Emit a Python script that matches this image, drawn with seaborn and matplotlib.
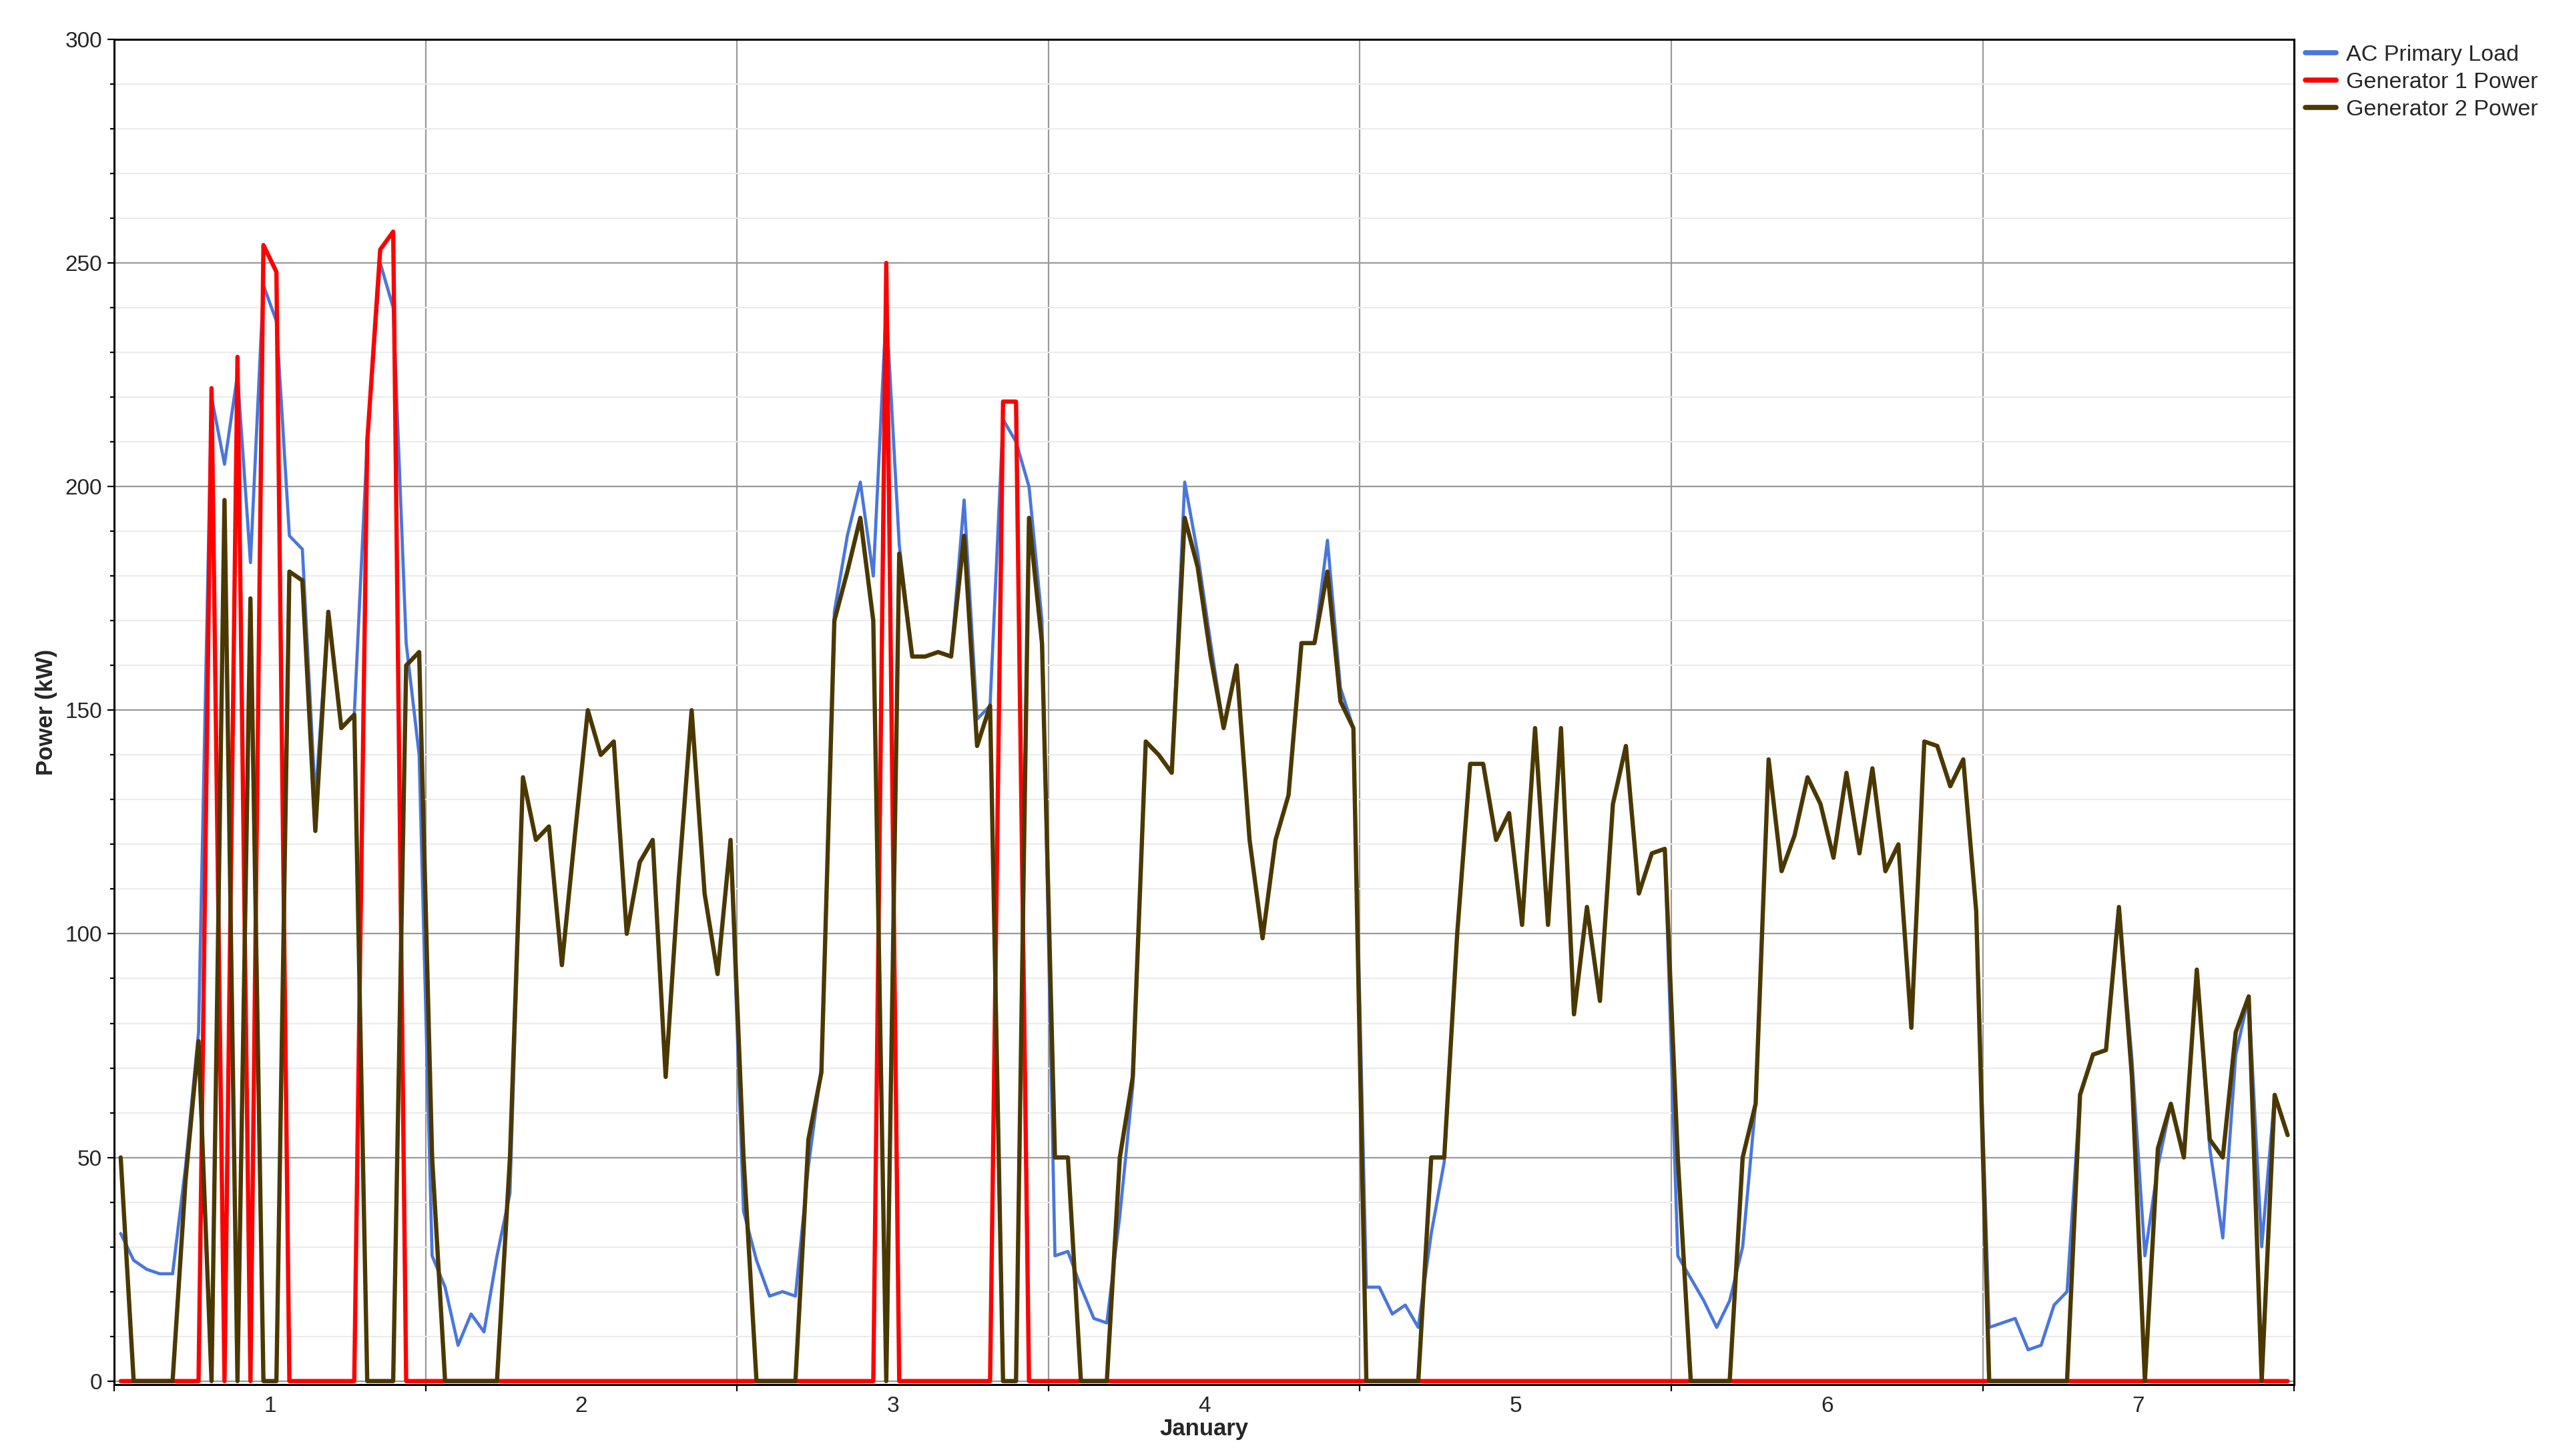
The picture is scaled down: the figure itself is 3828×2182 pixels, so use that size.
import numpy as np
import pandas as pd
import seaborn as sns
import matplotlib.pyplot as plt
from matplotlib.lines import Line2D
from matplotlib.ticker import MultipleLocator, FixedLocator, NullFormatter

# hourly values, one list per day (January 1..7)
load_d1 = [33, 27, 25, 24, 24, 48, 78, 220, 205, 225, 183, 245, 237, 189, 186, 130, 172, 146, 149, 210, 250, 240, 165, 140]
load_d2 = [28, 21, 8, 15, 11, 28, 42, 135, 121, 124, 93, 122, 150, 140, 143, 100, 116, 121, 68, 112, 150, 109, 91, 121]
load_d3 = [38, 27, 19, 20, 19, 48, 70, 172, 189, 201, 180, 240, 187, 162, 162, 163, 162, 197, 148, 151, 215, 210, 200, 170]
load_d4 = [28, 29, 21, 14, 13, 37, 66, 143, 140, 136, 201, 185, 165, 146, 160, 121, 99, 121, 131, 165, 165, 188, 155, 146]
load_d5 = [21, 21, 15, 17, 12, 33, 49, 100, 138, 138, 121, 127, 102, 146, 102, 146, 82, 106, 85, 129, 142, 109, 118, 119]
load_d6 = [28, 23, 18, 12, 18, 30, 62, 139, 114, 122, 135, 129, 117, 136, 118, 137, 114, 120, 79, 143, 142, 133, 139, 105]
load_d7 = [12, 13, 14, 7, 8, 17, 20, 64, 73, 74, 106, 72, 28, 48, 62, 50, 92, 52, 32, 73, 86, 30, 64, 55]

gen1_d1 = [0, 0, 0, 0, 0, 0, 0, 222, 0, 229, 0, 254, 248, 0, 0, 0, 0, 0, 0, 210, 253, 257, 0, 0]
gen1_d2 = [0] * 24
gen1_d3 = [0, 0, 0, 0, 0, 0, 0, 0, 0, 0, 0, 250, 0, 0, 0, 0, 0, 0, 0, 0, 219, 219, 0, 0]
gen1_d4 = [0] * 24
gen1_d5 = [0] * 24
gen1_d6 = [0] * 24
gen1_d7 = [0] * 24

gen2_d1 = [50, 0, 0, 0, 0, 45, 76, 0, 197, 0, 175, 0, 0, 181, 179, 123, 172, 146, 149, 0, 0, 0, 160, 163]
gen2_d2 = [50, 0, 0, 0, 0, 0, 50, 135, 121, 124, 93, 122, 150, 140, 143, 100, 116, 121, 68, 112, 150, 109, 91, 121]
gen2_d3 = [50, 0, 0, 0, 0, 54, 69, 170, 181, 193, 170, 0, 185, 162, 162, 163, 162, 189, 142, 151, 0, 0, 193, 165]
gen2_d4 = [50, 50, 0, 0, 0, 50, 68, 143, 140, 136, 193, 182, 162, 146, 160, 121, 99, 121, 131, 165, 165, 181, 152, 146]
gen2_d5 = [0, 0, 0, 0, 0, 50, 50, 100, 138, 138, 121, 127, 102, 146, 102, 146, 82, 106, 85, 129, 142, 109, 118, 119]
gen2_d6 = [50, 0, 0, 0, 0, 50, 62, 139, 114, 122, 135, 129, 117, 136, 118, 137, 114, 120, 79, 143, 142, 133, 139, 105]
gen2_d7 = [0, 0, 0, 0, 0, 0, 0, 64, 73, 74, 106, 68, 0, 52, 62, 50, 92, 54, 50, 78, 86, 0, 64, 55]

series_names = ["AC Primary Load", "Generator 1 Power", "Generator 2 Power"]
colors = ["#4a76dc", "#ff0000", "#4b3800"]
day_labels = ["1", "2", "3", "4", "5", "6", "7"]

load = load_d1 + load_d2 + load_d3 + load_d4 + load_d5 + load_d6 + load_d7
gen1 = gen1_d1 + gen1_d2 + gen1_d3 + gen1_d4 + gen1_d5 + gen1_d6 + gen1_d7
gen2 = gen2_d1 + gen2_d2 + gen2_d3 + gen2_d4 + gen2_d5 + gen2_d6 + gen2_d7

hours = np.arange(len(load))
df = pd.DataFrame({
    "day": 0.5 + (hours + 0.5) / 24,
    series_names[0]: load,
    series_names[1]: gen1,
    series_names[2]: gen2,
})
long = df.melt(id_vars="day", var_name="series", value_name="power")

sns.set_style("white")
plt.rcParams["font.family"] = ["Liberation Sans", "DejaVu Sans"]

fig = plt.figure(figsize=(38.28, 21.82), dpi=100)
ax = fig.add_axes([0.0447, 0.049, 0.8532, 0.924])

sns.lineplot(data=long, x="day", y="power", hue="series", hue_order=series_names,
             palette=colors, estimator=None, linewidth=4, ax=ax, legend=False)
for line, lw in zip(ax.lines, [3.4, 4.6, 4.6]):
    line.set_linewidth(lw)

ax.set_xlim(0.5, 7.5)
ax.set_ylim(-0.8, 300)

# day boundaries carry ticks and grid, day centres carry labels
ax.xaxis.set_major_locator(MultipleLocator(1, offset=0.5))
ax.xaxis.set_major_formatter(NullFormatter())
ax.xaxis.set_minor_locator(FixedLocator(np.arange(1, 8)))
ax.set_xticklabels(day_labels, minor=True)
ax.tick_params(axis="x", which="major", length=7, width=1.6, color="black", direction="out", bottom=True)
ax.tick_params(axis="x", which="minor", length=0, pad=12, labelsize=24)

ax.yaxis.set_major_locator(MultipleLocator(50))
ax.yaxis.set_minor_locator(MultipleLocator(10))
ax.tick_params(axis="y", which="major", length=7, width=1.6, pad=6, labelsize=24, left=True, color="black")
ax.tick_params(axis="y", which="minor", length=4, width=1.6, left=True, color="black")

ax.set_axisbelow(True)
ax.grid(which="minor", axis="y", color="#ececec", linewidth=1.6)
ax.grid(which="major", axis="y", color="#999999", linewidth=1.6)
ax.grid(which="major", axis="x", color="#999999", linewidth=1.6)

for sp in ax.spines.values():
    sp.set_color("black")
    sp.set_linewidth(2.2)

ax.set_xlabel("January", fontsize=25, fontweight="bold")
ax.set_ylabel("Power (kW)", fontsize=25, fontweight="bold")
ax.xaxis.set_label_coords(0.5, -0.025)
ax.yaxis.set_label_coords(-0.026, 0.5)

handles = [Line2D([], [], color=c, linewidth=5.5) for c in colors]
fig.legend(handles, series_names, loc="upper left", bbox_to_anchor=(0.9023, 0.9693),
           frameon=False, borderpad=0, borderaxespad=0, handlelength=1.35,
           handletextpad=0.45, labelspacing=0.3, fontsize=24.5)

fig.savefig("out.png", dpi=100, facecolor="white")
